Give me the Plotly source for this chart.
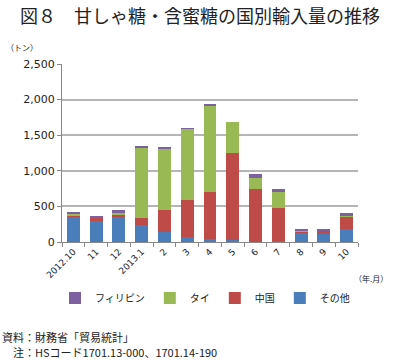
import plotly.graph_objects as go

categories = ["2012.10", "11", "12", "2013.1", "2", "3", "4", "5", "6", "7", "8", "9", "10"]
other = [362, 291, 353, 235, 141, 66, 42, 33, 5, 9, 127, 118, 188]
china = [14, 57, 32, 108, 315, 517, 654, 1222, 733, 466, 19, 37, 165]
thai = [24, 0, 29, 973, 860, 1006, 1217, 432, 164, 239, 14, 0, 14]
philippines = [18, 9, 42, 33, 5, 5, 14, 0, 52, 24, 23, 14, 42]

colors = {"フィリピン": "#7d60a0", "タイ": "#98b954", "中国": "#be4b48", "その他": "#4a7ebb"}

JP = "Noto Sans CJK JP"
L, R, T, B = 62, 42, 64, 118
PW, PH = 400 - L - R, 360 - T - B


def px(x):
    return (x - L) / PW


def py(y):
    return (360 - B - y) / PH


fig = go.Figure()
for name, vals in [("その他", other), ("中国", china), ("タイ", thai), ("フィリピン", philippines)]:
    fig.add_trace(go.Bar(x=categories, y=vals, name=name, marker_color=colors[name],
                         marker_line_width=0))

fig.update_layout(
    width=400, height=360, barmode="stack", bargap=0.43,
    margin=dict(l=L, r=R, t=T, b=B, autoexpand=False),
    paper_bgcolor="white", plot_bgcolor="white",
    font=dict(family=JP, size=10, color="#222"),
    showlegend=True,
    legend=dict(orientation="h", traceorder="reversed", x=px(205), xanchor="center",
                y=py(298), yanchor="middle", font=dict(size=10, family=JP),
                itemwidth=30, tracegroupgap=0),
    xaxis=dict(type="category", tickangle=-45, ticks="outside", tickson="boundaries",
               ticklen=4, tickcolor="#888", showline=True, linecolor="#888", automargin=False,
               tickfont=dict(family="DejaVu Sans", size=9, color="#222")),
    yaxis=dict(range=[0, 2500], dtick=500, tickformat=",", showgrid=True,
               gridcolor="#b5b5b5", gridwidth=1.5, showline=True, linecolor="#888",
               ticks="outside", ticklen=4, tickcolor="#888", zeroline=False, automargin=False,
               tickfont=dict(family="DejaVu Sans", size=11, color="#222")),
)

fig.add_annotation(text="図８　甘しゃ糖・含蜜糖の国別輸入量の推移", xref="paper", yref="paper",
                   x=px(200), xanchor="center", y=py(15), yanchor="middle", showarrow=False,
                   font=dict(family=JP, size=18, color="#222"))
fig.add_annotation(text="（トン）", xref="paper", yref="paper", x=px(4), xanchor="left",
                   y=py(47), yanchor="middle", showarrow=False, font=dict(family=JP, size=8))
fig.add_annotation(text="（年.月）", xref="paper", yref="paper", x=px(352), xanchor="left",
                   y=py(278), yanchor="middle", showarrow=False, font=dict(family=JP, size=8))
fig.add_annotation(text="資料：財務省「貿易統計」", xref="paper", yref="paper", x=px(0), xanchor="left",
                   y=py(337), yanchor="middle", showarrow=False, font=dict(family=JP, size=11))
fig.add_annotation(text="　注：HSコード1701.13-000、1701.14-190", xref="paper", yref="paper", x=px(0),
                   xanchor="left", y=py(352), yanchor="middle", showarrow=False,
                   font=dict(family=JP, size=11))

fig.write_html("out.html", config={"displayModeBar": False},
               post_script="document.body.style.margin='0px';")
